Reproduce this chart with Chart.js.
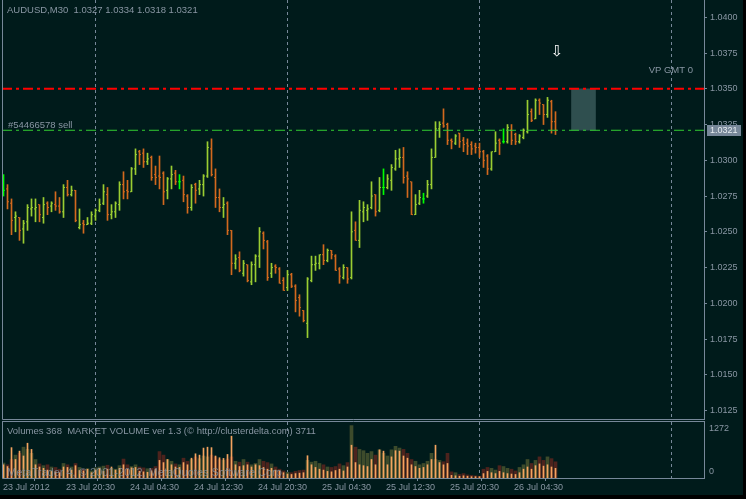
<!DOCTYPE html>
<html lang="en">
<head>
<meta charset="UTF-8">
<title>AUDUSD,M30</title>
<style>
  body { margin: 0; background: #000; }
  .wrap { position: relative; width: 746px; height: 499px; background: #000; overflow: hidden; }
  .pane { position: absolute; left: 0; width: 743px; background: #001b1b; }
  .pane canvas { display: block; }
  #pricePane { top: 0; height: 421px; }
  #volPane { top: 421px; height: 74px; }
</style>
<script src="https://cdn.jsdelivr.net/npm/chart.js@4.4.1/dist/chart.umd.min.js"></script>
</head>
<body>
<div class="wrap">
  <div class="pane" id="pricePane"><canvas id="price" width="743" height="421"></canvas></div>
  <div class="pane" id="volPane"><canvas id="vol" width="743" height="74"></canvas></div>
</div>
<script>
// AUDUSD M30 bars, 23 Jul 2012 12:30 onwards (one entry per bar)
const opens = [
  1.0279,1.0280,1.0270,1.0260,1.0260,1.0252,1.0257,1.0266,1.0266,1.0269,
  1.0260,1.0270,1.0268,1.0269,1.0268,1.0264,1.0281,1.0276,1.0279,1.0253,
  1.0256,1.0255,1.0256,1.0261,1.0265,1.0270,1.0276,1.0262,1.0264,1.0269,
  1.0283,1.0279,1.0278,1.0294,1.0306,1.0305,1.0299,1.0302,1.0290,1.0289,
  1.0291,1.0279,1.0287,1.0291,1.0285,1.0286,1.0275,1.0267,1.0283,1.0280,
  1.0283,1.0289,1.0308,1.0288,1.0274,1.0267,1.0270,1.0251,1.0228,1.0232,
  1.0221,1.0227,1.0215,1.0227,1.0233,1.0249,1.0243,1.0221,1.0226,1.0224,
  1.0216,1.0211,1.0220,1.0212,1.0204,1.0195,1.0186,1.0216,1.0227,1.0228,
  1.0234,1.0230,1.0237,1.0233,1.0224,1.0218,1.0225,1.0218,1.0251,1.0244,
  1.0264,1.0265,1.0267,1.0276,1.0265,1.0281,1.0281,1.0286,1.0294,1.0301,
  1.0302,1.0289,1.0285,1.0262,1.0270,1.0273,1.0275,1.0283,1.0302,1.0322,
  1.0326,1.0325,1.0314,1.0312,1.0319,1.0314,1.0312,1.0311,1.0310,1.0309,
  1.0306,1.0303,1.0294,1.0306,1.0314,1.0313,1.0313,1.0321,1.0318,1.0313,
  1.0316,1.0320,1.0334,1.0329,1.0342,1.0339,1.0332,1.0341,1.0327
];
const highs = [
  1.0290,1.0283,1.0273,1.0264,1.0260,1.0258,1.0269,1.0273,1.0273,1.0269,
  1.0274,1.0271,1.0271,1.0278,1.0274,1.0283,1.0286,1.0282,1.0279,1.0266,
  1.0258,1.0260,1.0264,1.0266,1.0273,1.0283,1.0281,1.0269,1.0271,1.0285,
  1.0292,1.0286,1.0295,1.0308,1.0307,1.0308,1.0305,1.0303,1.0296,1.0303,
  1.0292,1.0288,1.0296,1.0293,1.0290,1.0289,1.0276,1.0283,1.0284,1.0286,
  1.0290,1.0313,1.0315,1.0294,1.0280,1.0274,1.0271,1.0251,1.0234,1.0236,
  1.0230,1.0227,1.0229,1.0234,1.0253,1.0250,1.0244,1.0228,1.0227,1.0225,
  1.0218,1.0223,1.0221,1.0213,1.0206,1.0195,1.0218,1.0233,1.0233,1.0234,
  1.0241,1.0238,1.0237,1.0234,1.0225,1.0227,1.0225,1.0264,1.0257,1.0272,
  1.0271,1.0269,1.0285,1.0276,1.0288,1.0294,1.0290,1.0297,1.0307,1.0308,
  1.0309,1.0292,1.0285,1.0276,1.0279,1.0277,1.0286,1.0308,1.0327,1.0327,
  1.0336,1.0326,1.0315,1.0318,1.0319,1.0316,1.0315,1.0313,1.0312,1.0312,
  1.0307,1.0304,1.0306,1.0320,1.0315,1.0322,1.0325,1.0325,1.0319,1.0318,
  1.0322,1.0342,1.0336,1.0343,1.0343,1.0339,1.0344,1.0342,1.0334
];
const lows = [
  1.0275,1.0266,1.0248,1.0250,1.0244,1.0242,1.0251,1.0261,1.0257,1.0257,
  1.0256,1.0262,1.0264,1.0265,1.0263,1.0260,1.0275,1.0275,1.0257,1.0252,
  1.0249,1.0255,1.0255,1.0258,1.0264,1.0269,1.0258,1.0259,1.0260,1.0265,
  1.0273,1.0273,1.0278,1.0290,1.0297,1.0295,1.0297,1.0286,1.0283,1.0280,
  1.0269,1.0273,1.0280,1.0283,1.0280,1.0271,1.0263,1.0265,1.0270,1.0276,
  1.0275,1.0288,1.0289,1.0267,1.0264,1.0260,1.0248,1.0220,1.0224,1.0222,
  1.0219,1.0215,1.0213,1.0215,1.0225,1.0238,1.0216,1.0218,1.0221,1.0214,
  1.0209,1.0209,1.0211,1.0194,1.0191,1.0187,1.0176,1.0215,1.0223,1.0224,
  1.0227,1.0229,1.0231,1.0223,1.0214,1.0217,1.0214,1.0217,1.0244,1.0239,
  1.0257,1.0258,1.0266,1.0261,1.0264,1.0276,1.0280,1.0279,1.0293,1.0295,
  1.0284,1.0274,1.0262,1.0262,1.0269,1.0270,1.0274,1.0280,1.0302,1.0316,
  1.0323,1.0311,1.0308,1.0311,1.0309,1.0306,1.0304,1.0304,1.0305,1.0302,
  1.0295,1.0290,1.0293,1.0306,1.0304,1.0312,1.0312,1.0311,1.0311,1.0312,
  1.0315,1.0319,1.0327,1.0329,1.0332,1.0325,1.0330,1.0319,1.0318
];
const closes = [
  1.0279,1.0271,1.0258,1.0261,1.0251,1.0256,1.0267,1.0267,1.0267,1.0262,
  1.0269,1.0267,1.0270,1.0268,1.0264,1.0281,1.0276,1.0279,1.0258,1.0255,
  1.0255,1.0256,1.0262,1.0265,1.0269,1.0278,1.0262,1.0264,1.0270,1.0283,
  1.0278,1.0278,1.0294,1.0304,1.0304,1.0299,1.0301,1.0288,1.0288,1.0288,
  1.0278,1.0287,1.0290,1.0285,1.0285,1.0276,1.0267,1.0281,1.0279,1.0283,
  1.0289,1.0309,1.0290,1.0274,1.0267,1.0269,1.0251,1.0228,1.0231,1.0223,
  1.0228,1.0216,1.0227,1.0233,1.0250,1.0244,1.0218,1.0225,1.0225,1.0214,
  1.0209,1.0220,1.0212,1.0202,1.0197,1.0188,1.0217,1.0227,1.0228,1.0234,
  1.0230,1.0237,1.0234,1.0223,1.0219,1.0225,1.0217,1.0250,1.0244,1.0265,
  1.0267,1.0266,1.0275,1.0264,1.0281,1.0281,1.0287,1.0295,1.0301,1.0302,
  1.0288,1.0287,1.0262,1.0269,1.0274,1.0273,1.0283,1.0302,1.0322,1.0325,
  1.0324,1.0314,1.0313,1.0317,1.0313,1.0311,1.0310,1.0308,1.0309,1.0306,
  1.0300,1.0294,1.0306,1.0312,1.0312,1.0313,1.0323,1.0314,1.0313,1.0317,
  1.0321,1.0332,1.0328,1.0342,1.0340,1.0332,1.0342,1.0327,1.0321
];
// volume window: wide coloured bars and thin orange bars
const volBars = [
  340,300,420,520,560,700,650,560,420,320,
  280,300,250,240,200,330,300,250,330,240,
  200,210,160,230,250,270,290,220,200,280,
  430,300,260,300,250,230,210,220,260,600,
  520,420,380,320,300,450,380,420,480,440,
  500,480,520,480,420,400,430,480,380,360,
  420,360,300,330,420,380,350,320,250,200,
  160,130,120,150,170,180,400,360,380,330,
  300,250,240,260,320,280,350,1190,700,650,
  620,560,600,520,640,560,500,640,720,680,
  650,560,420,380,300,330,380,560,420,400,
  370,560,140,120,80,100,70,60,50,40,
  200,240,220,180,280,260,220,200,160,240,
  300,420,330,400,480,400,480,440,368
];
const volLines = [
  300,260,690,420,610,500,790,650,300,250,
  220,180,150,140,120,250,240,180,280,170,
  160,200,120,180,220,150,200,250,180,220,
  300,200,230,240,150,140,130,160,200,400,
  350,420,300,250,240,350,300,450,550,520,
  680,700,690,500,460,445,535,950,300,260,
  280,300,250,300,280,240,200,220,180,160,
  120,90,80,100,110,120,506,300,240,200,
  180,150,140,170,200,160,250,745,350,300,
  280,260,420,300,640,610,300,480,620,610,
  500,450,300,260,220,240,300,420,745,350,
  300,330,60,50,40,50,40,30,30,30,
  100,150,120,100,150,120,100,90,80,120,
  200,250,200,280,320,270,300,250,220
];
const priceTicks = [1.0125,1.0150,1.0175,1.0200,1.0225,1.0250,1.0275,1.0300,1.0325,1.0350,1.0375,1.0400];
const timeLabels = ['23 Jul 2012','23 Jul 20:30','24 Jul 04:30','24 Jul 12:30','24 Jul 20:30','25 Jul 04:30','25 Jul 12:30','25 Jul 20:30','26 Jul 04:30'];
const timeTickPos = [-0.1,15.6,31.6,47.6,63.6,79.6,95.6,111.6,127.6];
const dayStarts = [23,71,119,167];   // bar index of midnight
const orderPrice = 1.0321, stopPrice = 1.0350;
const vpBox = {x: 145, from: 1.0321, to: 1.0350};
const VOL_MAX = 1272;

const X_MIN = -0.375, X_MAX = 175.125;
const Y_MIN = 1.01191, Y_MAX = 1.04121;

const FRAME = '#778899', TEXT = '#8896a3';
const UP = '#9acd32', DOWN = '#d2691e', DOJI = '#00ff00';
const FONT = "'Liberation Sans', Arial, sans-serif";

Chart.defaults.font.family = FONT;
Chart.defaults.font.size = 9;
Chart.defaults.animation = false;
Chart.defaults.events = [];
Chart.defaults.plugins.legend.display = false;
Chart.defaults.plugins.tooltip.enabled = false;

const idx = opens.map((_, i) => i);
const barColors = idx.map(i => closes[i] > opens[i] ? UP : (closes[i] < opens[i] ? DOWN : DOJI));
const volColors = idx.map(i => closes[i] >= opens[i] ? '#3d4b2b' : '#4d231d');

function drawDaySeps(chart) {
  const ctx = chart.ctx, a = chart.chartArea, xs = chart.scales.x;
  ctx.save();
  ctx.strokeStyle = FRAME;
  ctx.lineWidth = 1;
  ctx.setLineDash([3, 3]);
  dayStarts.forEach(d => {
    const x = Math.floor(xs.getPixelForValue(d)) + 0.5;
    ctx.beginPath();
    ctx.moveTo(x, a.top);
    ctx.lineTo(x, a.bottom);
    ctx.stroke();
  });
  ctx.restore();
}

function drawFrame(ctx, a, topLine) {
  ctx.save();
  ctx.strokeStyle = FRAME;
  ctx.lineWidth = 1;
  ctx.beginPath();
  ctx.moveTo(a.left + 0.5, topLine ? 0 : a.top);
  ctx.lineTo(a.left + 0.5, a.bottom + 0.5);
  ctx.lineTo(a.right + 1, a.bottom + 0.5);
  ctx.moveTo(a.right + 0.5, topLine ? 0 : a.top);
  ctx.lineTo(a.right + 0.5, a.bottom + 0.5);
  if (topLine) { ctx.moveTo(a.left, 0.5); ctx.lineTo(a.right + 1, 0.5); }
  ctx.stroke();
  ctx.restore();
}

const priceDecor = {
  id: 'priceDecor',
  beforeDatasetsDraw(chart) { drawDaySeps(chart); },
  afterDraw(chart) {
    const ctx = chart.ctx, a = chart.chartArea, ys = chart.scales.y, xs = chart.scales.x;
    drawFrame(ctx, a, false);
    ctx.save();
    ctx.font = '9.5px ' + FONT;
    ctx.textBaseline = 'middle';
    ctx.fillStyle = TEXT;
    ctx.fillText('AUDUSD,M30  ' + [opens, highs, lows, closes].map(s => s[s.length - 1].toFixed(4)).join(' '), 7, 10);
    const oy = ys.getPixelForValue(orderPrice);
    ctx.fillText('#54466578 sell', 8, oy - 5);
    ctx.textAlign = 'right';
    ctx.fillText('VP GMT 0', a.right - 11, 70);
    // current price label
    const last = closes[closes.length - 1];
    const py = Math.round(ys.getPixelForValue(last));
    ctx.fillStyle = FRAME;
    ctx.fillRect(a.right + 3, py - 5, 34, 11);
    ctx.fillStyle = '#e6ecf0';
    ctx.textAlign = 'left';
    ctx.font = '9px ' + FONT;
    ctx.fillText(last.toFixed(4), a.right + 6, py + 0.5);
    // arrow mark
    ctx.fillStyle = '#ffffff';
    ctx.textAlign = 'center';
    ctx.font = "15px 'DejaVu Sans', sans-serif";
    ctx.fillText('\u21E9', xs.getPixelForValue(138.4), ys.getPixelForValue(1.0376));
    ctx.restore();
  }
};

const volDecor = {
  id: 'volDecor',
  beforeDatasetsDraw(chart) { drawDaySeps(chart); },
  afterDraw(chart) {
    const ctx = chart.ctx, a = chart.chartArea, ys = chart.scales.y;
    drawFrame(ctx, a, true);
    ctx.save();
    ctx.textBaseline = 'middle';
    ctx.fillStyle = TEXT;
    ctx.font = '9.5px ' + FONT;
    ctx.fillText('Volumes 368  MARKET VOLUME ver 1.3 (\u00A9 http://clusterdelta.com) 3711', 7, 10);
    ctx.font = '9px ' + FONT;
    ctx.fillText(String(VOL_MAX), a.right + 5, ys.getPixelForValue(VOL_MAX) + 7);
    ctx.fillText('0', a.right + 5, ys.getPixelForValue(0) - 6.5);
    ctx.globalAlpha = 0.75;
    ctx.font = '11px ' + FONT;
    ctx.fillText('MetaTrader 4, \u00A9 2001-2012, MetaQuotes Software Corp.', 7, 52);
    ctx.restore();
  }
};

new Chart(document.getElementById('price'), {
  type: 'bar',
  data: {
    datasets: [
      {
        type: 'bar',
        data: idx.map(i => ({x: i, y: [lows[i], highs[i]]})),
        backgroundColor: barColors,
        barThickness: 1,
        grouped: false,
        borderWidth: 0,
        order: 3
      },
      {
        type: 'scatter',
        data: idx.map(i => ({x: i - 0.25, y: opens[i]})),
        pointStyle: 'line',
        pointRadius: 0.5,
        pointHoverRadius: 0,
        pointBorderWidth: 1,
        pointBorderColor: barColors,
        order: 2
      },
      {
        type: 'scatter',
        data: idx.map(i => ({x: i + 0.25, y: closes[i]})),
        pointStyle: 'line',
        pointRadius: 0.5,
        pointHoverRadius: 0,
        pointBorderWidth: 1,
        pointBorderColor: barColors,
        order: 2
      },
      {
        type: 'bar',
        data: [{x: vpBox.x, y: [vpBox.from, vpBox.to]}],
        backgroundColor: '#2f4f4f',
        barThickness: 24,
        grouped: false,
        order: 4
      },
      {
        type: 'line',
        data: [{x: X_MIN, y: orderPrice}, {x: X_MAX, y: orderPrice}],
        borderColor: '#32cd32',
        borderWidth: 1,
        borderDash: [10, 4, 3, 4],
        pointRadius: 0,
        pointHoverRadius: 0,
        order: 1
      },
      {
        type: 'line',
        data: [{x: X_MIN, y: stopPrice}, {x: X_MAX, y: stopPrice}],
        borderColor: '#ff0000',
        borderWidth: 2,
        borderDash: [10, 4, 3, 4],
        pointRadius: 0,
        pointHoverRadius: 0,
        order: 1
      }
    ]
  },
  options: {
    responsive: false,
    layout: {autoPadding: false, padding: {left: 2, top: 0, right: 0, bottom: 2}},
    scales: {
      x: {type: 'linear', display: false, min: X_MIN, max: X_MAX, offset: false},
      y: {
        position: 'right',
        min: Y_MIN,
        max: Y_MAX,
        afterBuildTicks: s => { s.ticks = priceTicks.map(v => ({value: v})); },
        afterFit: s => { s.width = 39; s.paddingTop = 0; s.paddingBottom = 0; },
        ticks: {color: TEXT, padding: 3, callback: v => v.toFixed(4)},
        grid: {drawOnChartArea: false, tickLength: 3, color: FRAME},
        border: {display: false}
      }
    }
  },
  plugins: [priceDecor]
});

new Chart(document.getElementById('vol'), {
  type: 'bar',
  data: {
    datasets: [
      {
        data: idx.map(i => ({x: i, y: volBars[i]})),
        backgroundColor: volColors,
        barThickness: 3,
        grouped: false,
        order: 2
      },
      {
        data: idx.map(i => ({x: i, y: volLines[i]})),
        backgroundColor: '#f4a460',
        barThickness: 1,
        grouped: false,
        order: 1
      }
    ]
  },
  options: {
    responsive: false,
    layout: {autoPadding: false, padding: {left: 2, top: 1, right: 0, bottom: 0}},
    scales: {
      x: {
        type: 'linear',
        min: X_MIN,
        max: X_MAX,
        offset: false,
        afterBuildTicks: s => { s.ticks = timeTickPos.map(v => ({value: v})); },
        afterFit: s => { s.height = 17; s.paddingLeft = 0; s.paddingRight = 0; },
        ticks: {color: TEXT, padding: 1, align: 'start', maxRotation: 0, autoSkip: false,
                callback: (v, k) => timeLabels[k]},
        grid: {drawOnChartArea: false, tickLength: 3, color: FRAME},
        border: {display: false}
      },
      y: {
        position: 'right',
        min: 0,
        max: VOL_MAX,
        ticks: {display: false},
        grid: {display: false},
        border: {display: false},
        afterFit: s => { s.width = 39; s.paddingTop = 0; s.paddingBottom = 0; }
      }
    }
  },
  plugins: [volDecor]
});
</script>
</body>
</html>
